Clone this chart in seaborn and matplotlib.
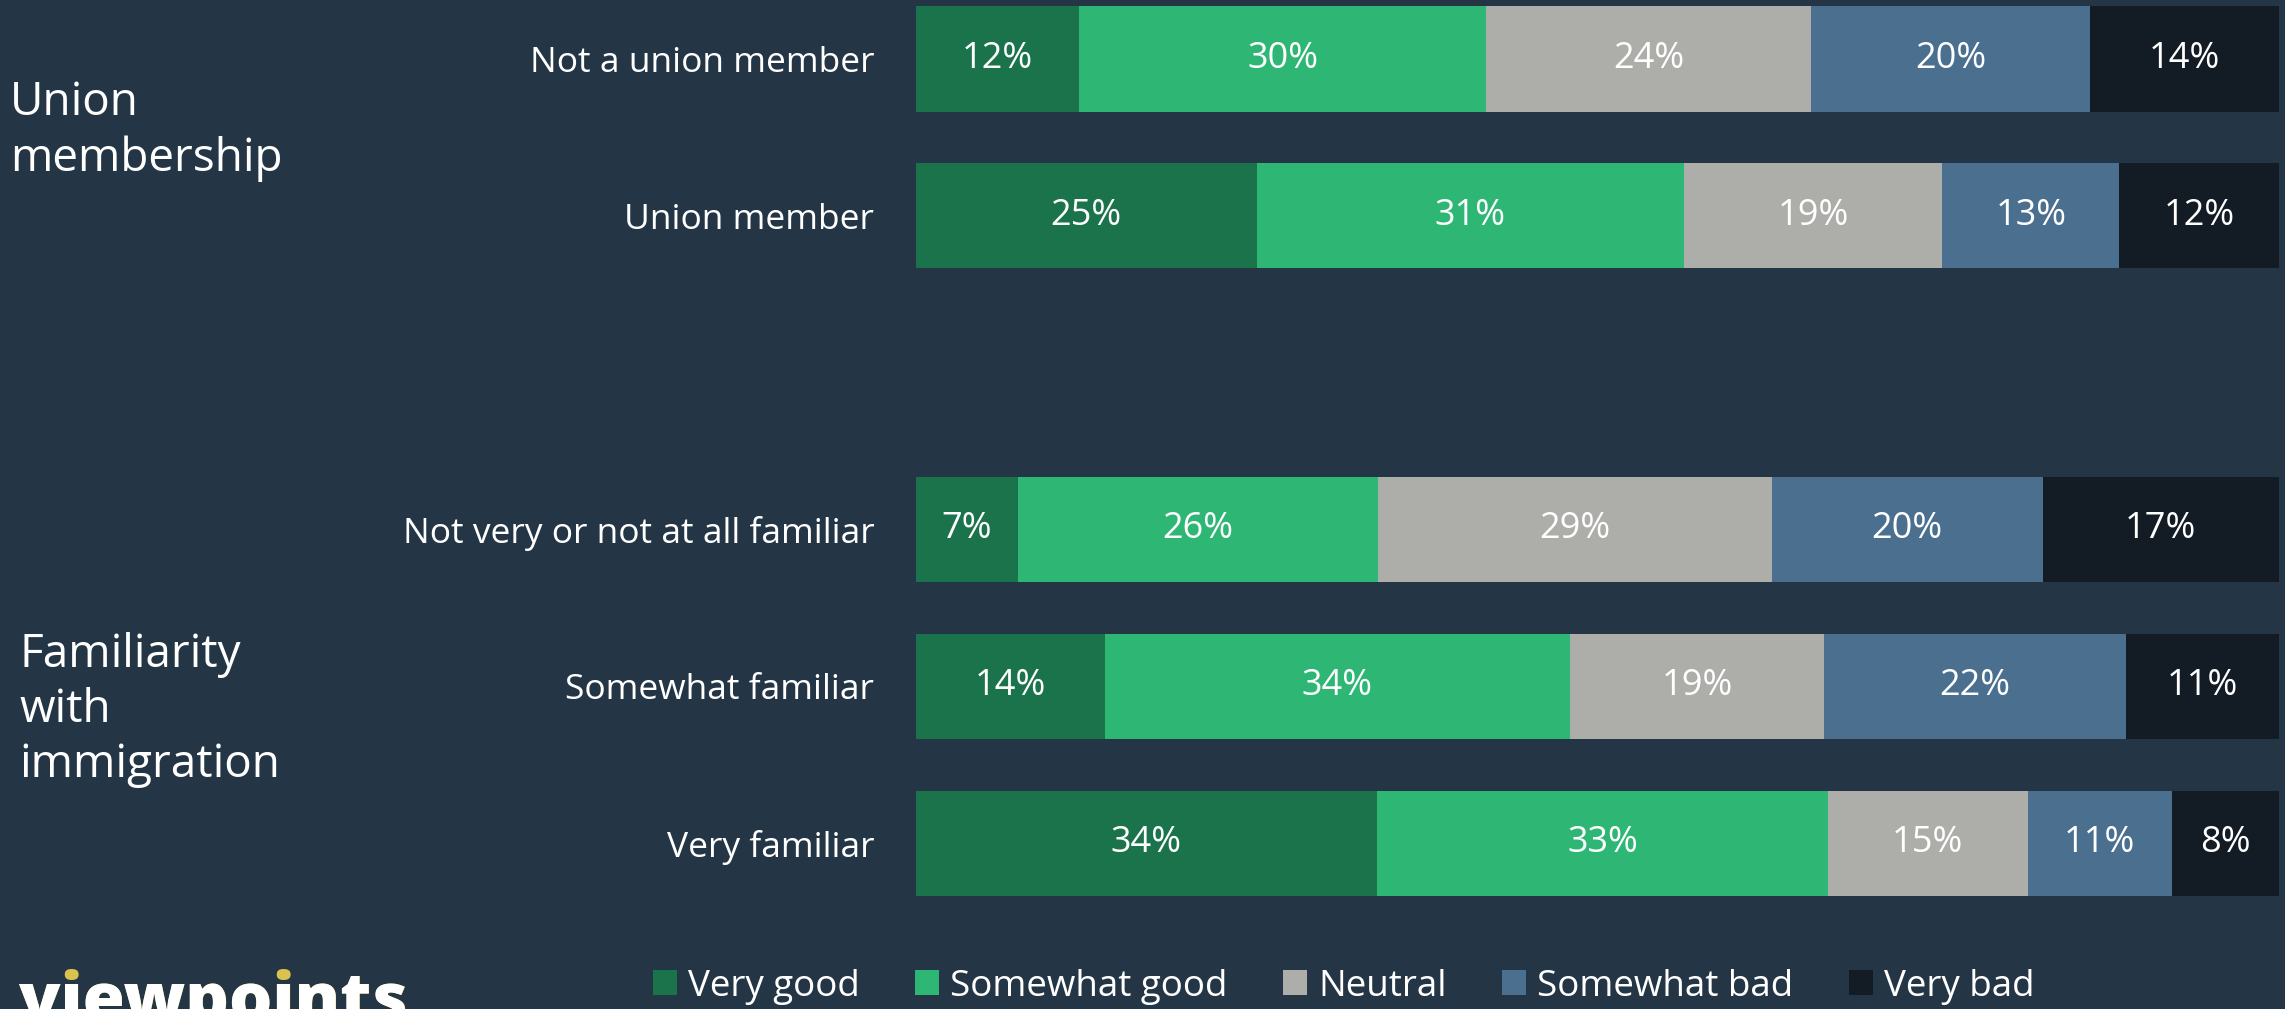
import pandas as pd
import matplotlib.pyplot as plt
import matplotlib.transforms as mtransforms
from matplotlib.patches import Patch
import seaborn as sns

# ── data ─────────────────────────────────────────────────────────────────────
rows = [
    "Not a union member",
    "Union member",
    "Not very or not at all familiar",
    "Somewhat familiar",
    "Very familiar",
]
very_good     = [11.95, 24.99, 7.45, 13.85, 33.80]
somewhat_good = [29.90, 31.33, 26.45, 34.13, 33.11]
neutral       = [23.84, 18.97, 28.90, 18.64, 14.64]
somewhat_bad  = [20.42, 13.00, 19.85, 22.13, 10.59]
very_bad      = [13.89, 11.71, 17.35, 11.25, 7.85]

categories = ["Very good", "Somewhat good", "Neutral", "Somewhat bad", "Very bad"]
groups = ["Union\nmembership", "Familiarity\nwith\nimmigration"]
group_pos = [0.46, 4.15]

# blank slot between the two groups
order = rows[:2] + [" "] + rows[2:]

# ── style ────────────────────────────────────────────────────────────────────
BG = "#243646"
COLORS = ["#1A734A", "#2DB674", "#ADADAA", "#4A6F8F", "#131B25"]

sns.set_theme(style="white")
plt.rcParams["font.family"] = ["Open Sans", "DejaVu Sans"]

df = pd.DataFrame(
    {"row": rows, "Very good": very_good, "Somewhat good": somewhat_good,
     "Neutral": neutral, "Somewhat bad": somewhat_bad, "Very bad": very_bad}
)
cum = df[categories].cumsum(axis=1)
left = cum - df[categories]

fig = plt.figure(figsize=(22.85, 10.09), dpi=100, facecolor=BG)
ax = fig.add_axes([916 / 2285, 1 - 921.5 / 1009, 1363 / 2285, 921.5 / 1009])
ax.set_facecolor(BG)

# stacked bars: draw cumulative totals from the back
for i in reversed(range(len(categories))):
    plot_df = pd.DataFrame({"row": df["row"], "val": cum[categories[i]]})
    sns.barplot(data=plot_df, x="val", y="row", order=order, orient="h",
                color=COLORS[i], saturation=1, width=0.67, errorbar=None,
                linewidth=0, ax=ax)

# value labels
ypos = {r: order.index(r) for r in rows}
for i, c in enumerate(categories):
    for j, r in enumerate(rows):
        v = df.loc[j, c]
        ax.text(left.loc[j, c] + v / 2, ypos[r], f"{v:.0f}%",
                ha="center", va="center", color="white", fontsize=26)

ax.set_xlim(0, 100)
ax.set_ylim(5.5, -0.376)
ax.set_xlabel("")
ax.set_ylabel("")
ax.set_xticks([])
ax.tick_params(axis="y", left=False, labelsize=25.5, labelcolor="white", pad=24)
sns.despine(ax=ax, left=True, bottom=True)

# group labels
trans = mtransforms.blended_transform_factory(fig.transFigure, ax.transData)
for g, y, x in zip(groups, group_pos, [0.0045, 0.0085]):
    fig.text(x, y, g, transform=trans, ha="left", va="center", color="white",
             fontsize=33, linespacing=1.25)

# legend
handles = [Patch(facecolor=c, edgecolor="none") for c in COLORS]
fig.legend(handles, categories, loc="center", bbox_to_anchor=(0.588, 0.022),
           ncol=5, frameon=False, fontsize=26.5, labelcolor="white",
           handlelength=0.66, handleheight=0.66, handletextpad=0.3,
           columnspacing=1.5, borderaxespad=0)

# logo
fig.text(0.0085, -0.012, "viewpoints", color="#D9C24E", fontsize=49,
         fontweight="heavy", ha="left", va="baseline")
fig.text(0.0085, -0.012, "v\u0131ewpo\u0131nts", color="white", fontsize=49,
         fontweight="heavy", ha="left", va="baseline")

fig.savefig("out.png", dpi=100, facecolor=BG)
